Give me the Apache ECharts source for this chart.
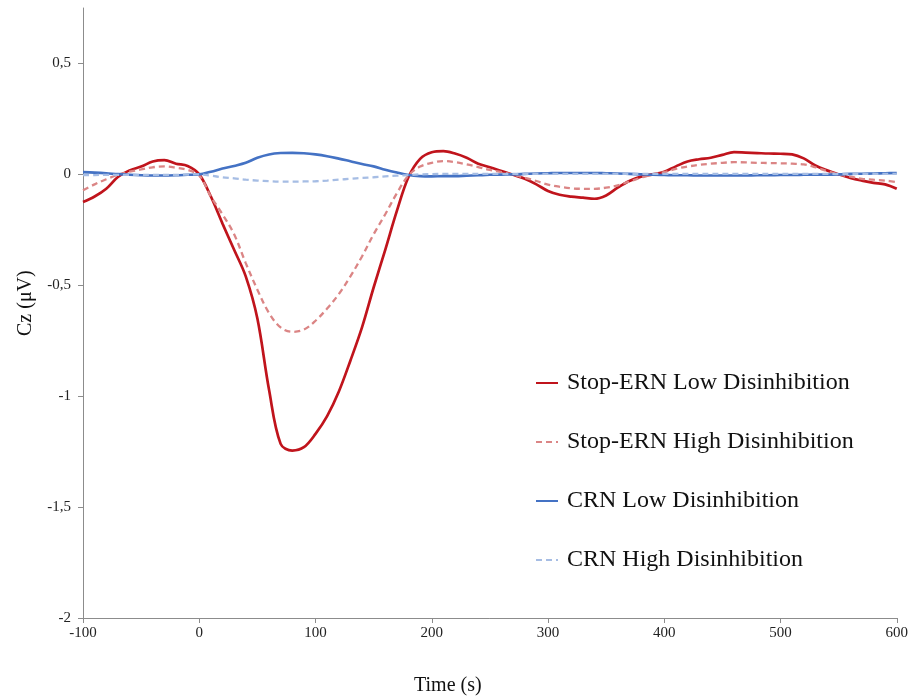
<!DOCTYPE html>
<html>
<head>
<meta charset="utf-8">
<script src="https://cdn.jsdelivr.net/npm/echarts@6/dist/echarts.min.js"></script>
<style>html,body{margin:0;padding:0;background:#fff}#c{width:911px;height:698px}</style>
</head>
<body>
<div id="c"></div>
<script>
const times = [-100,-90,-80,-70,-60,-50,-40,-30,-20,-10,0,10,20,30,40,50,60,70,80,90,100,110,120,130,140,150,160,170,180,190,200,210,220,230,240,250,260,270,280,290,300,310,320,330,340,350,360,370,380,390,400,410,420,430,440,450,460,470,480,490,500,510,520,530,540,550,560,570,580,590,600];
const stopLow = [-0.125,-0.10,-0.065,-0.012,0.018,0.035,0.058,0.064,0.048,0.038,0.0,-0.10,-0.222,-0.34,-0.46,-0.65,-0.97,-1.215,-1.245,-1.23,-1.17,-1.09,-0.98,-0.84,-0.69,-0.51,-0.34,-0.165,-0.012,0.07,0.10,0.105,0.094,0.075,0.048,0.032,0.015,-0.002,-0.02,-0.045,-0.075,-0.092,-0.10,-0.105,-0.11,-0.095,-0.06,-0.03,-0.01,0.0,0.012,0.036,0.058,0.068,0.075,0.088,0.10,0.098,0.096,0.094,0.093,0.09,0.072,0.04,0.018,0.0,-0.016,-0.028,-0.038,-0.045,-0.065];
const stopHigh = [-0.072,-0.045,-0.022,-0.002,0.012,0.022,0.032,0.036,0.03,0.02,-0.005,-0.10,-0.18,-0.27,-0.40,-0.52,-0.625,-0.69,-0.71,-0.70,-0.66,-0.605,-0.54,-0.46,-0.37,-0.27,-0.18,-0.085,-0.005,0.035,0.052,0.06,0.055,0.045,0.033,0.02,0.01,-0.002,-0.015,-0.03,-0.046,-0.056,-0.063,-0.065,-0.065,-0.06,-0.05,-0.032,-0.015,0.0,0.01,0.025,0.035,0.043,0.048,0.052,0.055,0.054,0.052,0.051,0.05,0.048,0.045,0.032,0.015,0.0,-0.01,-0.02,-0.024,-0.028,-0.035];
const crnLow = [0.01,0.008,0.005,0.001,-0.002,-0.004,-0.005,-0.005,-0.004,-0.002,0.0,0.012,0.026,0.038,0.052,0.075,0.09,0.096,0.097,0.095,0.09,0.082,0.071,0.059,0.047,0.036,0.021,0.008,-0.003,-0.008,-0.009,-0.008,-0.008,-0.006,-0.004,-0.002,-0.001,0.0,0.002,0.004,0.005,0.006,0.006,0.006,0.006,0.005,0.004,0.002,0.0,-0.002,-0.003,-0.004,-0.004,-0.005,-0.005,-0.005,-0.005,-0.005,-0.004,-0.004,-0.003,-0.003,-0.002,-0.001,-0.001,0.0,0.002,0.003,0.004,0.005,0.006];
const crnHigh = [-0.003,-0.003,-0.002,-0.002,-0.002,-0.002,-0.002,-0.002,-0.002,-0.001,0.0,-0.006,-0.013,-0.018,-0.024,-0.028,-0.031,-0.033,-0.033,-0.032,-0.031,-0.028,-0.024,-0.02,-0.016,-0.013,-0.009,-0.006,-0.003,0.0,0.001,0.002,0.002,0.002,0.002,0.002,0.002,0.002,0.002,0.002,0.002,0.002,0.002,0.002,0.002,0.002,0.002,0.002,0.002,0.002,0.002,0.002,0.002,0.002,0.002,0.002,0.002,0.002,0.002,0.002,0.002,0.002,0.002,0.002,0.002,0.002,0.002,0.002,0.002,0.002,0.002];
const seriesNames = ['Stop-ERN Low Disinhibition','Stop-ERN High Disinhibition','CRN Low Disinhibition','CRN High Disinhibition'];
const yTicks = [-2,-1.5,-1,-0.5,0,0.5];
const xTicks = [-100,0,100,200,300,400,500,600];

const font = 'Liberation Serif';
const pairs = arr => times.map((t,i)=>[t,arr[i]]);
const mk = (name, arr, color, width, dash) => ({
  name, type:'line', data: pairs(arr), smooth:0.35, symbol:'none', showSymbol:false,
  lineStyle:{color, width, type: dash ? [6,4] : 'solid'}, itemStyle:{color}, z: 2
});
const chart = echarts.init(document.getElementById('c'));
chart.setOption({
  animation:false,
  backgroundColor:'#fff',
  grid:{left:83,right:11,top:8,bottom:80},
  xAxis:{type:'value',min:-100,max:600,interval:100,
    axisLine:{onZero:false,lineStyle:{color:'#8c8c8c',width:1}},
    axisTick:{show:true,length:5,lineStyle:{color:'#8c8c8c'}},
    splitLine:{show:false},
    axisLabel:{color:'#222',fontFamily:font,fontSize:15,margin:8,
      customValues:xTicks}},
  yAxis:{type:'value',min:-2,max:0.75,interval:0.5,
    axisLine:{show:true,onZero:false,lineStyle:{color:'#8c8c8c',width:1}},
    axisTick:{show:true,length:5,lineStyle:{color:'#8c8c8c'},customValues:yTicks},
    splitLine:{show:false},
    axisLabel:{color:'#222',fontFamily:font,fontSize:15,margin:12,customValues:yTicks,
      formatter:v=>String(v).replace('.',',')}},
  legend:{orient:'vertical',left:530,top:366,itemGap:35,itemWidth:22,itemHeight:14,
    data:seriesNames,
    itemStyle:{opacity:0},
    textStyle:{color:'#111',fontFamily:font,fontSize:24,padding:[0,0,0,4]}},
  graphic:[
    {type:'text',left:414,top:676,style:{text:'Time (s)',font:'20px "Liberation Serif"',fill:'#111'}},
    {type:'text',x:16,y:336,rotation:Math.PI/2,style:{text:'Cz (μV)',font:'20px "Liberation Serif"',fill:'#111'}}
  ],
  series:[
    mk(seriesNames[0], stopLow, '#C0141C', 2.7, false),
    mk(seriesNames[1], stopHigh, '#DB8585', 2.3, true),
    mk(seriesNames[2], crnLow, '#4472C4', 2.6, false),
    mk(seriesNames[3], crnHigh, '#A6BDE4', 2.3, true)
  ]
});
</script>
</body>
</html>
